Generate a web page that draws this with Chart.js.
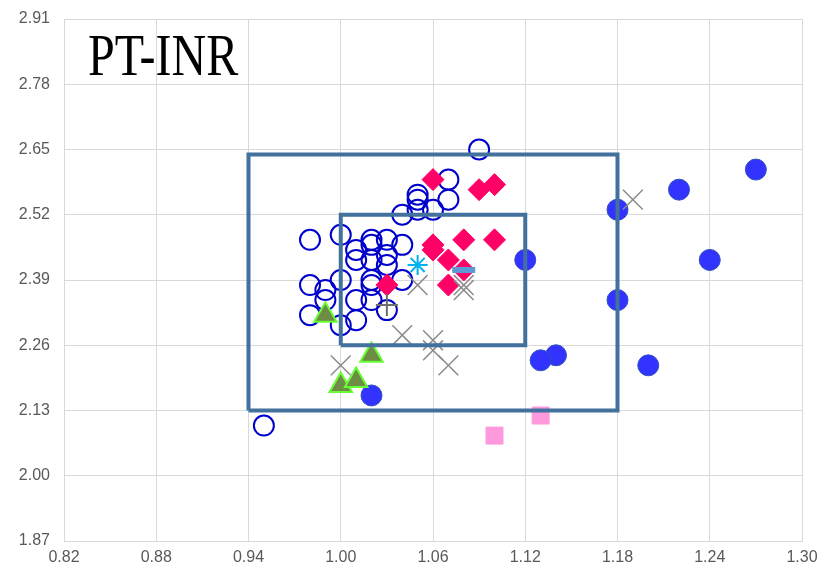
<!DOCTYPE html>
<html>
<head>
<meta charset="utf-8">
<script src="https://cdn.jsdelivr.net/npm/chart.js@4/dist/chart.umd.min.js"></script>
<style>
  html, body { margin: 0; padding: 0; background: #ffffff; }
  #wrap { width: 821px; height: 572px; }
</style>
</head>
<body>
<div id="wrap"><canvas id="c" width="821" height="572"></canvas></div>
<script>
// ---- tick labels ----
const xTicks = [0.82, 0.88, 0.94, 1.00, 1.06, 1.12, 1.18, 1.24, 1.30];
const yTicks = [1.87, 2.00, 2.13, 2.26, 2.39, 2.52, 2.65, 2.78, 2.91];
const titleText = 'PT-INR';

// ---- reference boxes: [xMin, xMax, yMin, yMax] ----
const outerBox = [0.94, 1.18, 2.13, 2.64];
const innerBox = [1.00, 1.12, 2.26, 2.52];

// ---- series values [x, y] ----
const filledCircles = [
  [1.27, 2.61], [1.22, 2.57], [1.18, 2.53], [1.12, 2.43], [1.24, 2.43],
  [1.18, 2.35], [1.14, 2.24], [1.13, 2.23], [1.20, 2.22], [1.02, 2.16]
];
const openCircles = [
  [0.95, 2.10], [1.09, 2.65], [1.07, 2.59], [1.07, 2.55], [1.05, 2.56],
  [1.05, 2.55], [1.04, 2.52], [1.05, 2.53], [1.06, 2.53],
  [0.98, 2.47], [1.00, 2.48], [1.01, 2.45], [1.01, 2.43], [1.02, 2.47],
  [1.02, 2.46], [1.03, 2.47], [1.04, 2.46], [1.03, 2.44], [1.03, 2.42],
  [1.02, 2.39], [1.02, 2.38], [1.00, 2.39], [0.98, 2.38], [0.99, 2.37],
  [0.99, 2.35], [0.98, 2.32], [1.00, 2.30], [1.01, 2.35], [1.01, 2.31],
  [1.02, 2.35], [1.03, 2.33], [1.04, 2.39], [1.02, 2.43]
];
const diamonds = [
  [1.06, 2.59], [1.09, 2.57], [1.10, 2.58], [1.06, 2.46], [1.06, 2.45],
  [1.08, 2.47], [1.10, 2.47], [1.07, 2.43], [1.08, 2.41], [1.07, 2.38],
  [1.03, 2.38]
];
const triangles = [[0.99, 2.32], [1.02, 2.24], [1.00, 2.18], [1.01, 2.19]];
const squares = [[1.10, 2.08], [1.13, 2.12]];
const crosses = [
  [1.19, 2.55], [1.00, 2.22], [1.04, 2.28], [1.06, 2.27], [1.06, 2.25],
  [1.07, 2.22], [1.05, 2.38], [1.08, 2.38], [1.08, 2.37]
];
const plusMarks = [[1.03, 2.34]];
const stars = [[1.05, 2.42]];
const dashes = [[1.08, 2.41]];

// ---- helpers ----
const pts = arr => arr.map(p => ({ x: p[0], y: p[1] }));
const boxPts = b => [
  { x: b[0], y: b[2] }, { x: b[1], y: b[2] }, { x: b[1], y: b[3] },
  { x: b[0], y: b[3] }, { x: b[0], y: b[2] }
];

const titlePlugin = {
  id: 'insideTitle',
  afterDatasetsDraw(chart) {
    const ctx = chart.ctx;
    const a = chart.chartArea;
    ctx.save();
    ctx.translate(a.left + 24, a.top + 56);
    ctx.scale(1, 1.22);
    ctx.font = '48px "Liberation Serif", "Times New Roman", serif';
    ctx.fillStyle = '#000000';
    ctx.textBaseline = 'alphabetic';
    ctx.textAlign = 'left';
    ctx.fillText(titleText, 0, 0);
    ctx.restore();
  }
};

const boxStyle = {
  type: 'line', showLine: true, fill: false, pointRadius: 0,
  borderColor: '#41719C', borderWidth: 4, borderJoinStyle: 'miter', tension: 0, order: 0
};

new Chart(document.getElementById('c'), {
  type: 'scatter',
  data: {
    datasets: [
      Object.assign({ label: 'outer', data: boxPts(outerBox) }, boxStyle),
      Object.assign({ label: 'inner', data: boxPts(innerBox) }, boxStyle),
      { label: 'x', data: pts(crosses), pointStyle: 'crossRot', pointRadius: 14,
        borderColor: '#8C8C8C', borderWidth: 1.5, backgroundColor: 'transparent', order: 1 },
      { label: 'plus', data: pts(plusMarks), pointStyle: 'cross', pointRadius: 11,
        borderColor: '#6E6E6E', borderWidth: 2, backgroundColor: 'transparent', order: 1 },
      { label: 'dash', data: pts(dashes), pointStyle: 'line', pointRadius: 11.5,
        borderColor: '#5B9BD5', borderWidth: 6, backgroundColor: '#5B9BD5', order: 2 },
      { label: 'star', data: pts(stars), pointStyle: 'star', pointRadius: 10,
        borderColor: '#00B0F0', borderWidth: 2, backgroundColor: 'transparent', order: 2 },
      { label: 'tri', data: pts(triangles), pointStyle: 'triangle', pointRadius: 13,
        borderColor: '#66FF33', borderWidth: 2, backgroundColor: '#6E8C46', order: 3 },
      { label: 'diamond', data: pts(diamonds), pointStyle: 'rectRot', pointRadius: 11,
        borderColor: '#FF0066', borderWidth: 1, backgroundColor: '#FF0066', order: 4 },
      { label: 'open', data: pts(openCircles), pointStyle: 'circle', pointRadius: 10,
        borderColor: '#0000CC', borderWidth: 2, backgroundColor: 'transparent', order: 5 },
      { label: 'filled', data: pts(filledCircles), pointStyle: 'circle', pointRadius: 10.5,
        borderColor: '#2E4FBF', borderWidth: 1, backgroundColor: '#3333FF', order: 6 },
      { label: 'square', data: pts(squares), pointStyle: 'rect', pointRadius: 12,
        borderColor: '#FF99DD', borderWidth: 1, backgroundColor: '#FF99DD', order: 6 }
    ]
  },
  options: {
    responsive: false,
    animation: false,
    events: [],
    layout: { padding: { top: 19, right: 19, left: 0, bottom: 0 } },
    plugins: { legend: { display: false }, tooltip: { enabled: false }, title: { display: false } },
    scales: {
      x: {
        type: 'linear', min: xTicks[0], max: xTicks[xTicks.length - 1],
        afterBuildTicks: s => { s.ticks = xTicks.map(v => ({ value: v })); },
        afterFit: s => { s.height = 31; s.paddingLeft = 0; s.paddingRight = 0; },
        grid: { color: '#D9D9D9', lineWidth: 1, drawTicks: false },
        border: { color: '#D9D9D9' },
        ticks: {
          padding: 7, color: '#595959',
          font: { family: '"Liberation Sans Narrow", "Liberation Sans", Arial, sans-serif', size: 16 },
          callback: v => Number(v).toFixed(2), maxRotation: 0
        }
      },
      y: {
        type: 'linear', min: yTicks[0], max: yTicks[yTicks.length - 1],
        afterBuildTicks: s => { s.ticks = yTicks.map(v => ({ value: v })); },
        afterFit: s => { s.width = 64; s.paddingTop = 0; s.paddingBottom = 0; },
        grid: { color: '#D9D9D9', lineWidth: 1, drawTicks: false },
        border: { color: '#D9D9D9' },
        ticks: {
          padding: 14, color: '#595959',
          font: { family: '"Liberation Sans", Arial, sans-serif', size: 16 },
          callback: v => Number(v).toFixed(2)
        }
      }
    }
  },
  plugins: [titlePlugin]
});
</script>
</body>
</html>
